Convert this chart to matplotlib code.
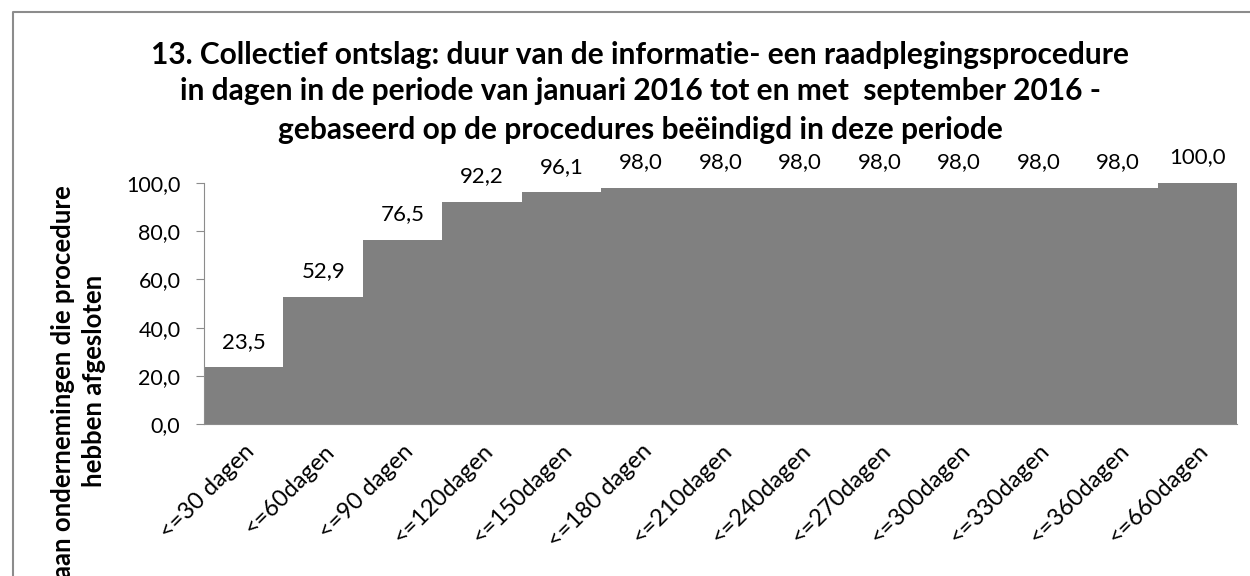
import matplotlib
matplotlib.use("Agg")
import matplotlib.pyplot as plt
from matplotlib.lines import Line2D

plt.rcParams['font.family'] = ['Lato', 'DejaVu Sans']

# data
categories = ['<=30 dagen', '<=60dagen', '<=90 dagen', '<=120dagen', '<=150dagen',
              '<=180 dagen', '<=210dagen', '<=240dagen', '<=270dagen', '<=300dagen',
              '<=330dagen', '<=360dagen', '<=660dagen']
percent = [23.5, 52.9, 76.5, 92.2, 96.1, 98.0, 98.0, 98.0, 98.0, 98.0, 98.0, 98.0, 100.0]
yticks = [0, 20, 40, 60, 80, 100]

title_lines = ['13. Collectief ontslag: duur van de informatie- een raadplegingsprocedure',
               'in dagen in de periode van januari 2016 tot en met  september 2016 -',
               'gebaseerd op de procedures beëindigd in deze periode']
ylabel = 'aan ondernemingen die procedure\nhebben afgesloten'

def fmt(v):
    return '{:.1f}'.format(v).replace('.', ',')

fig = plt.figure(figsize=(12.5, 5.76), dpi=100)
ax = fig.add_axes([0.1632, 0.2639, 0.8264, 0.4184])

x = list(range(len(categories)))
ax.bar(x, percent, width=1.0, color='#808080', linewidth=0)
for xi, v in zip(x, percent):
    ax.annotate(fmt(v), (xi, v), xytext=(0, 18.5), textcoords='offset points',
                ha='center', va='center', fontsize=16)

ax.set_xlim(-0.5, len(categories) - 0.5)
ax.set_ylim(0, 100)
ax.set_yticks(yticks)
ax.set_yticklabels([fmt(t) for t in yticks], fontsize=15.5)
ax.set_xticks(x)
ax.set_xticklabels(categories, rotation=45, ha='right', rotation_mode='anchor', fontsize=17)
ax.tick_params(axis='x', length=0, pad=12)
ax.tick_params(axis='y', length=6, color='#8c8c8c', pad=11)
for s in ['top', 'right']:
    ax.spines[s].set_visible(False)
ax.spines['left'].set_color('#8c8c8c')
ax.spines['bottom'].set_color('#8c8c8c')

# title, one text per line (baselines)
for line, yb in zip(title_lines, [0.889, 0.826, 0.759]):
    fig.text(0.512, yb, line, ha='center', va='baseline', fontsize=21.5, fontweight='bold')

fig.text(0.063, 0.338, ylabel, ha='center', va='center', rotation=90,
         fontsize=18.5, fontweight='bold', multialignment='center', linespacing=1.35)

# outer frame (left and top edges only)
fig.add_artist(Line2D([13 / 1250, 13 / 1250, 1.0], [0.0, 1 - 12 / 576, 1 - 12 / 576],
                      transform=fig.transFigure, color='#8c8c8c', linewidth=1.5))

fig.savefig('out.png', dpi=100)
